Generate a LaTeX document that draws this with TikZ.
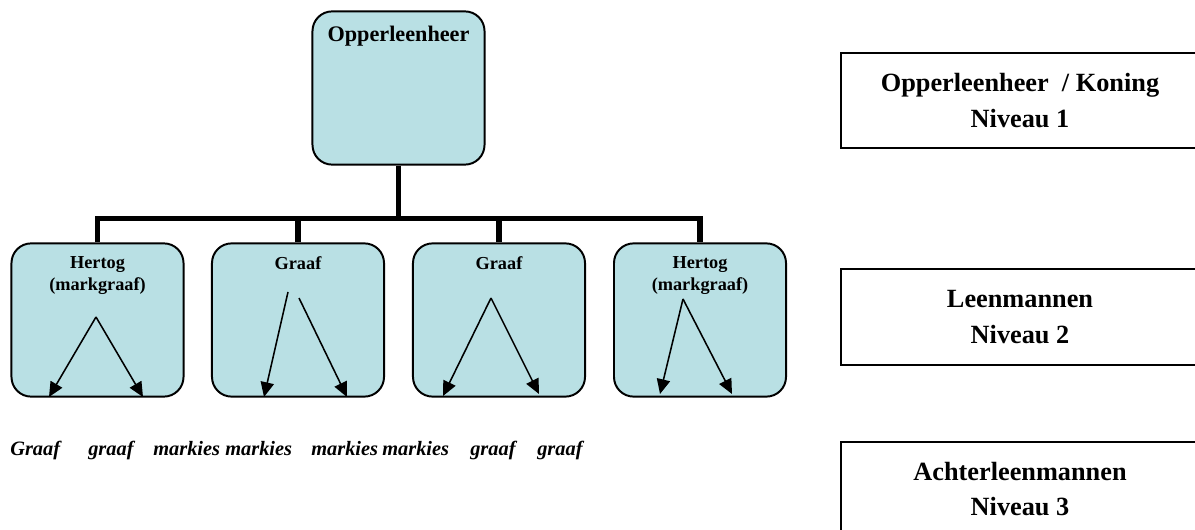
\documentclass[tikz,border=0pt]{standalone}
\usepackage{fontspec}
\setmainfont{Liberation Serif}
\usepackage{tikz}
\usetikzlibrary{arrows.meta}
\definecolor{leencyan}{RGB}{185,224,228}

\begin{document}
\begin{tikzpicture}[x=0.025cm,y=-0.025cm,
  leen/.style={draw,line width=1.4pt,fill=leencyan,rounded corners=14pt,
    minimum width=4.3cm,minimum height=3.83cm,inner sep=0pt},
  leentext/.style={anchor=north,inner sep=0pt,yshift=-10pt,align=center,
    font=\fontsize{13}{15.6}\selectfont\bf},
  niveau/.style={draw,line width=1.3pt,align=center,inner sep=0pt,
    minimum width=8.95cm,font=\fontsize{18.7}{25}\selectfont\bf},
  bond/.style={line width=4pt},
  vassal/.style={line width=1.1pt,-{Triangle[length=10.5pt,width=9.5pt]}},
  word/.style={anchor=base west,inner sep=0pt,
    font=\fontsize{14.5}{18}\selectfont\bfseries\itshape}]

\useasboundingbox (0,0) rectangle (1195,530);

\coordinate (bar) at (398,218.5);

% niveau 1
\node[leen,label={[leentext,yshift=-0.7pt,font=\fontsize{15.8}{18}\selectfont\bf]north:Opperleenheer}] (koning) at (398.5,88) {};

% niveau 2
\node[leen,label={[leentext]north:Hertog\\(markgraaf)}] (hertog1) at (97.5,320) {};
\node[leen,label={[leentext]north:Graaf}] (graaf1) at (298,320) {};
\node[leen,label={[leentext]north:Graaf}] (graaf2) at (499,320) {};
\node[leen,label={[leentext]north:Hertog\\(markgraaf)}] (hertog2) at (700,320) {};

\draw[bond] (koning.south) -- (koning.south|-bar);
\draw[bond] (hertog1.north) |- (hertog2.north|-bar) -- (hertog2.north);
\draw[bond] (graaf1.north) -- (graaf1.north|-bar);
\draw[bond] (graaf2.north) -- (graaf2.north|-bar);

% pijlen naar de achterleenmannen
\coordinate (h1a) at (96,317);
\coordinate (h1l) at (49,397);
\coordinate (h1r) at (143,397);
\coordinate (g1a) at (288,292);
\coordinate (g1b) at (299,298);
\coordinate (g1l) at (264,397);
\coordinate (g1r) at (347,397);
\coordinate (g2a) at (491,298);
\coordinate (g2l) at (443,396);
\coordinate (g2r) at (539,394);
\coordinate (h2a) at (683,299);
\coordinate (h2l) at (660,394);
\coordinate (h2r) at (732,394);

\draw[vassal] (h1a) -- (h1l);
\draw[vassal] (h1a) -- (h1r);
\draw[vassal] (g1a) -- (g1l);
\draw[vassal] (g1b) -- (g1r);
\draw[vassal] (g2a) -- (g2l);
\draw[vassal] (g2a) -- (g2r);
\draw[vassal] (h2a) -- (h2l);
\draw[vassal] (h2a) -- (h2r);

% niveau 3
\foreach \x/\w [count=\i] in {10/Graaf,88/graaf,153/markies,225/markies,311/markies,382/markies,470/graaf,537/graaf}
  \node[word] (w\i) at (\x,455) {\w};

% legenda rechts
\node[niveau,minimum height=2.375cm] (niv1) at (1020,100.5) {Opperleenheer~ / Koning\\Niveau 1};
\node[niveau,minimum height=2.4cm] (niv2) at (1020,317) {Leenmannen\\Niveau 2};
\node[niveau,minimum height=2.35cm] (niv3) at (1020,489) {Achterleenmannen\\Niveau 3};

\end{tikzpicture}
\end{document}
